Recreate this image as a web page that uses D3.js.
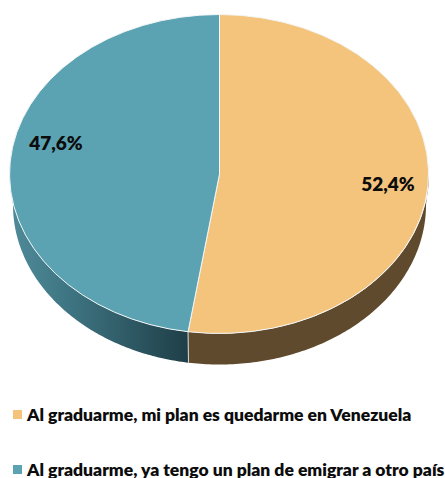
<!DOCTYPE html>
<html><head><meta charset="utf-8">
<script src="https://cdnjs.cloudflare.com/ajax/libs/d3/7.8.5/d3.min.js"></script>
<style>html,body{margin:0;padding:0;background:#fff}svg{display:block}text{font-family:Lato,"Open Sans",sans-serif;font-weight:800;fill:#0c0c0c}</style>
</head><body><svg id="c" width="445" height="478"></svg>
<script>
const categories = ["Al graduarme, mi plan es quedarme en Venezuela","Al graduarme, ya tengo un plan de emigrar a otro país"];
const values = [52.4, 47.6];
const labels = ["52,4%","47,6%"];
const colors = ["#f4c47d","#5ba3b3"];
const svg = d3.select("#c");
const cx=219.5, cy=174, rx=209.5, ry=159.5, depth=31, rxLow=206.5;
const pie = d3.pie().sort(null)(values);
const X=(a,r=rx)=>cx+r*Math.sin(a), Y=a=>cy-ry*Math.cos(a);
const defs=svg.append("defs");
const g=defs.append("linearGradient").attr("id","sb").attr("gradientUnits","userSpaceOnUse").attr("x1",12).attr("x2",187).attr("y1",0).attr("y2",0);
[[0,"#4f8a99"],[0.35,"#3d7380"],[1,"#1f3f48"]].forEach(s=>g.append("stop").attr("offset",s[0]).attr("stop-color",s[1]));
const sideFill=["#5f4a2e","url(#sb)"];
const line=d3.line();
pie.forEach((p,i)=>{
  const a0=Math.max(p.startAngle,Math.PI/2), a1=Math.min(p.endAngle,Math.PI*1.5);
  const ang=d3.range(0,121).map(k=>a0+(a1-a0)*k/120);
  const upper=ang.map(a=>[X(a),Y(a)]), lower=ang.map(a=>[X(a,rxLow),Y(a)+depth]).reverse();
  svg.append("path").attr("d",line(upper.concat(lower))+"Z").attr("fill",sideFill[i]);
});
const ea=pie[0].endAngle;
svg.append("line").attr("x1",X(ea)).attr("x2",X(ea,rxLow)).attr("y1",Y(ea)).attr("y2",Y(ea)+depth).attr("stroke","#d9d9d9").attr("stroke-width",1);
const arc=d3.arc().innerRadius(0).outerRadius(1);
const face=svg.append("g").attr("transform",`translate(${cx},${cy}) scale(${rx},${ry})`);
face.selectAll("path").data(pie).join("path").attr("d",arc).attr("fill",(d,i)=>colors[i])
  .attr("stroke","#f3f6f6").attr("stroke-width",1).attr("vector-effect","non-scaling-stroke");
const lp=[[388,185],[56,144]];
svg.selectAll("text.v").data(labels).join("text").attr("class","v").attr("x",(d,i)=>lp[i][0]).attr("y",(d,i)=>lp[i][1]+6)
  .attr("text-anchor","middle").attr("font-size",19).text(d=>d);
const ly=[415,470];
categories.forEach((c,i)=>{
  svg.append("rect").attr("x",13).attr("y",ly[i]-5).attr("width",9).attr("height",9).attr("fill",colors[i]);
  svg.append("text").attr("x",27).attr("y",ly[i]+5.5).attr("font-size",17.5).text(c);
});
</script></body></html>
